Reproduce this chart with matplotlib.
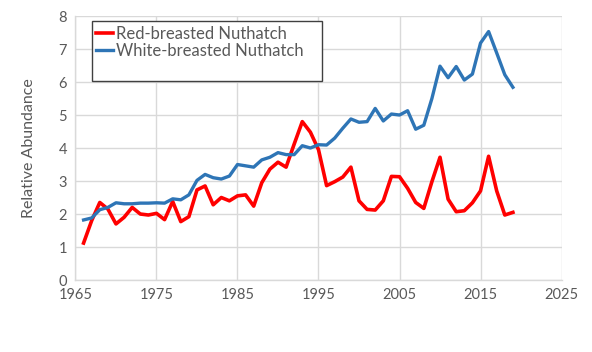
import matplotlib.pyplot as plt
from matplotlib.patches import Rectangle

years = list(range(1966, 2020))

red_breasted = [1.12, 1.8, 2.35, 2.15, 1.7, 1.9, 2.2, 2.0, 1.97, 2.02, 1.83, 2.38, 1.77, 1.92,
                2.73, 2.85, 2.28, 2.5, 2.4, 2.55, 2.58, 2.24, 2.95, 3.36, 3.57, 3.42, 4.12,
                4.8, 4.48, 3.95, 2.86, 2.98, 3.12, 3.42, 2.4, 2.14, 2.12, 2.4, 3.14, 3.13,
                2.78, 2.35, 2.17, 2.98, 3.72, 2.45, 2.07, 2.1, 2.34, 2.7, 3.75, 2.7, 1.97, 2.05]

white_breasted = [1.82, 1.88, 2.13, 2.2, 2.34, 2.31, 2.31, 2.33, 2.33, 2.34, 2.33, 2.46, 2.43,
                  2.58, 3.02, 3.2, 3.1, 3.06, 3.15, 3.5, 3.46, 3.42, 3.64, 3.72, 3.86, 3.8,
                  3.8, 4.07, 4.0, 4.1, 4.09, 4.3, 4.6, 4.88, 4.78, 4.8, 5.2, 4.82, 5.03, 5.0,
                  5.13, 4.57, 4.69, 5.5, 6.48, 6.13, 6.47, 6.06, 6.24, 7.18, 7.53, 6.88, 6.22, 5.84]

plt.rcParams['font.family'] = ['Lato', 'DejaVu Sans']

fig = plt.figure(figsize=(5.92, 3.52), dpi=100)
ax = fig.add_axes([0.1275, 0.2045, 0.821, 0.75])

ax.plot(years, red_breasted, color='#ff0000', lw=2.6, label='Red-breasted Nuthatch', zorder=3)
ax.plot(years, white_breasted, color='#2e75b6', lw=2.4, label='White-breasted Nuthatch', zorder=3)

ax.set_xlim(1965, 2025)
ax.set_ylim(0, 8)
ax.set_xticks(range(1965, 2026, 10))
ax.set_yticks(range(0, 9))
ax.grid(True, color='#d9d9d9', lw=1)
ax.set_axisbelow(True)
for s in ['top', 'right']:
    ax.spines[s].set_visible(False)
for s in ['left', 'bottom']:
    ax.spines[s].set_color('#d9d9d9')
    ax.spines[s].set_linewidth(1)
ax.tick_params(length=0, colors='#595959', labelsize=10.5, pad=6)
ax.set_ylabel('Relative Abundance', color='#595959', fontsize=11.5, labelpad=16)

# legend box is larger than its entries
fig.patches.append(Rectangle((92 / 592, 1 - 81 / 352), 230 / 592, 60 / 352,
                             transform=fig.transFigure, facecolor='white',
                             edgecolor='#404040', lw=1, zorder=5))
leg = fig.legend(loc='upper left', bbox_to_anchor=(84 / 592, 1 - 14 / 352), frameon=False,
                 fontsize=12, handlelength=1.05, handletextpad=0.15, labelspacing=0.1,
                 borderpad=0.2, labelcolor='#595959')
leg.set_zorder(6)

fig.savefig('out.png', dpi=100)
